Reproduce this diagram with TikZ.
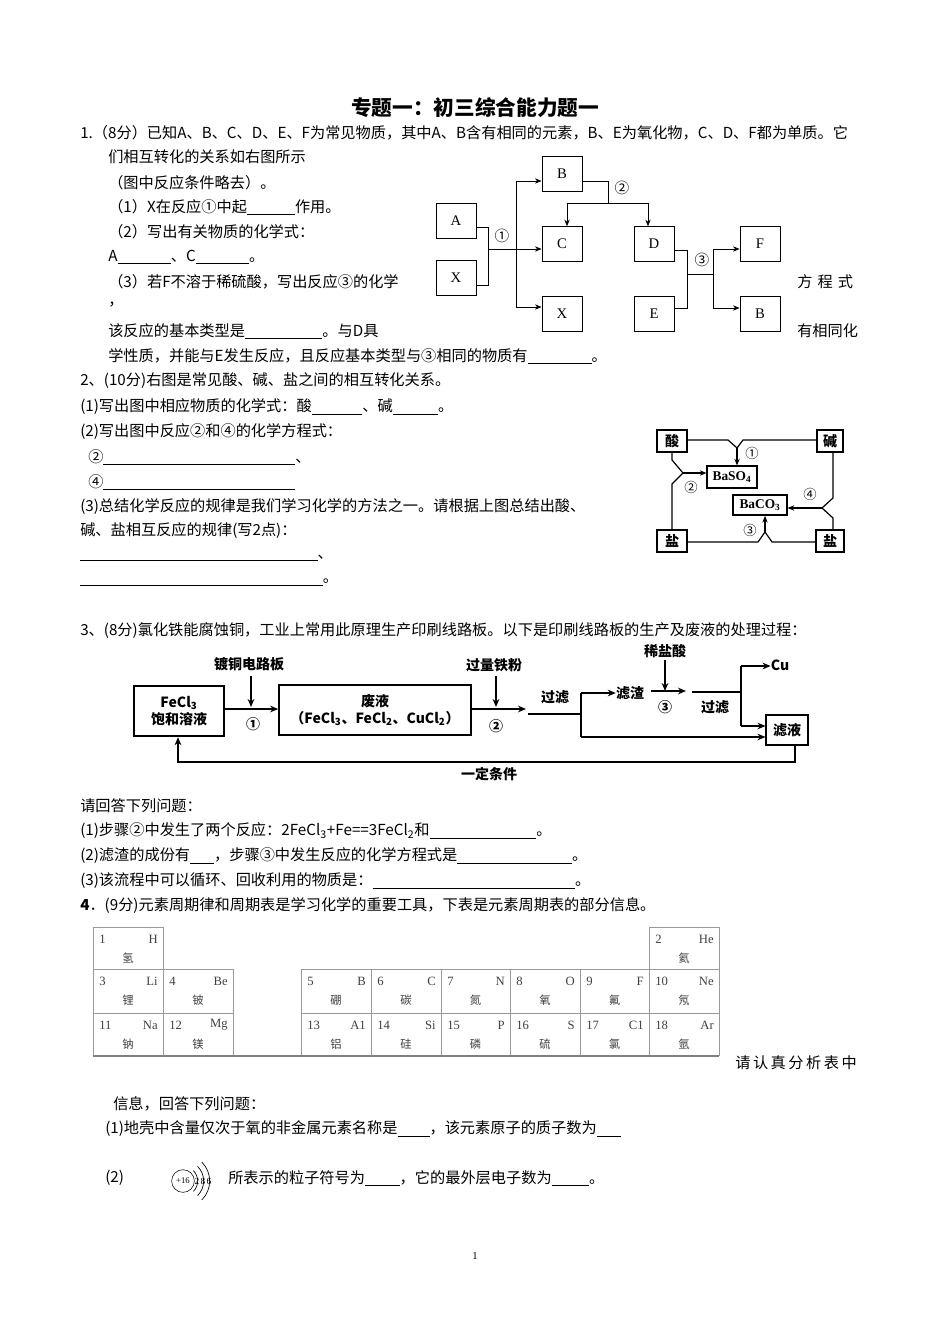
\documentclass[tikz,border=0pt]{standalone}
\usepackage{fontspec}
\setmainfont{Noto Sans CJK SC}
\newfontfamily\serif{Liberation Serif}
\usetikzlibrary{arrows.meta}
\newcommand\bl[1]{\rule[-2pt]{#1pt}{0.5pt}}
\newcommand\sub[1]{\textsubscript{#1}}
\begin{document}
\begin{tikzpicture}[x=0.75pt,y=-0.75pt,
  txt/.style={anchor=west,inner sep=0,font=\fontsize{11.4}{13}\selectfont},
  bx/.style={draw,line width=0.6pt,inner sep=0,font=\serif\fontsize{11}{12}\selectfont},
  ln/.style={line width=0.6pt},
  ar/.style={line width=0.6pt,-{Stealth[length=5pt,width=4pt]}},
  fb/.style={draw,line width=1.3pt,inner sep=0,font=\bfseries\fontsize{10.5}{13}\selectfont,align=center},
  fl/.style={line width=1.3pt},
  fa/.style={line width=1.3pt,-{Stealth[length=6pt,width=5pt]}},
  ft/.style={inner sep=0,font=\bfseries\fontsize{10.5}{12}\selectfont},
  lwb/.style={line width=0.9pt},
  lwa/.style={line width=0.9pt,-{Stealth[length=5pt,width=4pt]}},
  cell/.style={draw=gray!80,line width=0.6pt},
  ce/.style={inner sep=0,font=\fontsize{8.5}{10}\selectfont,text=black!75}]
\useasboundingbox[fill=white] (0,0) rectangle (950,1344);

\node[inner sep=0,font=\bfseries\fontsize{15.5}{17}\selectfont] (title) at (475,108) {专题一：初三综合能力题一};
\node[txt] (l1) at (80,133) {1.（8分）已知A、B、C、D、E、F为常见物质，其中A、B含有相同的元素，B、E为氧化物，C、D、F都为单质。它};
\node[txt] (l2) at (108,157) {们相互转化的关系如右图所示};
\node[txt] (l3) at (108,183) {（图中反应条件略去）。};
\node[txt] (l4) at (108,207) {（1）X在反应①中起\bl{36}作用。};
\node[txt] (l5) at (108,232) {（2）写出有关物质的化学式：};
\node[txt] (l6) at (108,257) {A\bl{40}、C\bl{40}。};
\node[txt] (l7) at (108,282) {（3）若F不溶于稀硫酸，写出反应③的化学};
\node[txt] (l7r) at (797,282) {方\,\,程\,\,式};
\node[txt] (l8) at (108,305) {，};
\node[txt] (l9) at (108,331) {该反应的基本类型是\bl{58}。与D具};
\node[txt] (l9r) at (797,331) {有相同化};
\node[txt] (l10) at (108,356) {学性质，并能与E发生反应，且反应基本类型与③相同的物质有\bl{48}。};

% diagram 1
\node[bx,minimum width=30pt,minimum height=26pt] (A) at (456,221) {A};
\node[bx,minimum width=30pt,minimum height=26pt] (X1) at (456,278) {X};
\node[bx,minimum width=30pt,minimum height=26pt] (B1) at (562,174) {B};
\node[bx,minimum width=30pt,minimum height=26pt] (C) at (562,244) {C};
\node[bx,minimum width=30pt,minimum height=26pt] (X2) at (562,314) {X};
\node[bx,minimum width=30pt,minimum height=26pt] (D) at (654,244) {D};
\node[bx,minimum width=30pt,minimum height=26pt] (E) at (654,314) {E};
\node[bx,minimum width=30pt,minimum height=26pt] (F) at (760,244) {F};
\node[bx,minimum width=30pt,minimum height=26pt] (B2) at (760,314) {B};
\draw[ln] (A.east|-0,227) -- (488,227) -- (488,285) -- (X1.east|-0,285);
\draw[ar] (488,249) -- (C.west|-0,249);
\draw[ln] (516,181) -- (516,307);
\draw[ar] (516,181) -- (B1.west|-0,181);
\draw[ar] (516,307) -- (X2.west|-0,307);
\node[inner sep=0,font=\fontsize{11}{12}\selectfont] (n1) at (502,236) {①};
\draw[ln] (B1.east|-0,181) -- (608,181) -- (608,203);
\draw[ln] (567,203) -- (648,203);
\draw[ar] (567,203) -- (C.north-|567,0);
\draw[ar] (648,203) -- (D.north-|648,0);
\node[inner sep=0,font=\fontsize{11}{12}\selectfont] (n2) at (622,188) {②};
\draw[ln] (D.east|-0,250) -- (687,250) -- (687,308) -- (E.east|-0,308);
\draw[ln] (687,274) -- (713,274);
\draw[ln] (713,249) -- (713,308);
\draw[ar] (713,249) -- (F.west|-0,249);
\draw[ar] (713,308) -- (B2.west|-0,308);
\node[inner sep=0,font=\fontsize{11}{12}\selectfont] (n3) at (702,260) {③};

% question 2
\node[txt] (m1) at (80,381) {2、(10分)右图是常见酸、碱、盐之间的相互转化关系。};
\node[txt] (m2) at (80,407) {(1)写出图中相应物质的化学式：酸\bl{38}、碱\bl{34}。};
\node[txt] (m3) at (80,432) {(2)写出图中反应②和④的化学方程式：};
\node[txt] (m4) at (88,457) {②\bl{144}、};
\node[txt] (m5) at (88,482) {④\bl{144}};
\node[txt] (m6) at (80,507) {(3)总结化学反应的规律是我们学习化学的方法之一。请根据上图总结出酸、};
\node[txt] (m7) at (80,531) {碱、盐相互反应的规律(写2点)：};
\node[txt] (m8) at (80,558) {\bl{178}、};
\node[txt] (m9) at (80,582) {\bl{182}。};

% diagram 2
\node[fb,minimum width=22pt,minimum height=16pt] (acid) at (672,441) {酸};
\node[fb,minimum width=20pt,minimum height=16pt] (base) at (830,441) {碱};
\node[fb,minimum width=22pt,minimum height=16pt] (salt1) at (672,541) {盐};
\node[fb,minimum width=21pt,minimum height=16pt] (salt2) at (830,541) {盐};
\node[fb,font=\serif\bfseries\fontsize{10}{11}\selectfont,minimum width=37pt,minimum height=16pt] (bso) at (732,477) {BaSO\sub{4}};
\node[fb,font=\serif\bfseries\fontsize{10}{11}\selectfont,minimum width=40pt,minimum height=15pt] (bco) at (760,505) {BaCO\sub{3}};
\draw[lwb] (acid.east|-0,440) -- (728,440) -- (737,448) -- (743,440) -- (base.west|-0,440);
\draw[lwa] (737,448) -- (bso.north-|737,0);
\draw[lwb] (acid.south-|672,0) -- (672,460) -- (683,473) -- (672,484) -- (salt1.north-|672,0);
\draw[lwa] (683,473) -- (bso.west|-0,473);
\draw[lwb] (base.south-|833,0) -- (833,498) -- (822,508) -- (833,518) -- (salt2.north-|833,0);
\draw[lwa] (822,508) -- (bco.east|-0,508);
\draw[lwb] (salt1.east|-0,542) -- (758,542) -- (765,532) -- (772,542) -- (salt2.west|-0,542);
\draw[lwa] (765,532) -- (bco.south-|765,0);
\node[inner sep=0,font=\fontsize{10}{11}\selectfont] (c1) at (752,453) {①};
\node[inner sep=0,font=\fontsize{10}{11}\selectfont] (c2) at (691,487) {②};
\node[inner sep=0,font=\fontsize{10}{11}\selectfont] (c3) at (750,530) {③};
\node[inner sep=0,font=\fontsize{10}{11}\selectfont] (c4) at (810,494) {④};

% question 3
\node[txt] (q1) at (80,631) {3、(8分)氯化铁能腐蚀铜，工业上常用此原理生产印刷线路板。以下是印刷线路板的生产及废液的处理过程：};
\node[fb,minimum width=68pt,minimum height=38pt] (fecl) at (179,711) {FeCl\sub{3}\\饱和溶液};
\node[fb,minimum width=144pt,minimum height=37pt] (fy) at (375,710) {废液\\（FeCl\sub{3}、FeCl\sub{2}、CuCl\sub{2}）};
\node[fb,minimum width=31pt,minimum height=22pt] (lye) at (787,730) {滤液};
\node[ft] (f1) at (249,664) {镀铜电路板};
\node[ft] (f2) at (494,665) {过量铁粉};
\node[ft] (f3) at (665,651) {稀盐酸};
\node[ft] (gl1) at (555,697) {过滤};
\node[ft] (lz) at (630,693) {滤渣};
\node[ft] (gl2) at (715,707) {过滤};
\node[ft] (cu) at (780,665) {Cu};
\node[ft] (yd) at (489,774) {一定条件};
\node[ft] (s1) at (253,724) {①};
\node[ft] (s2) at (496,726) {②};
\node[ft] (s3) at (665,707) {③};
\draw[fa] (251,676) -- (251,707);
\draw[fa] (fecl.east|-0,709) -- (fy.west|-0,709);
\draw[fa] (496,676) -- (496,707);
\draw[fa] (fy.east|-0,709) -- (526,709);
\draw[fl] (528,714) -- (581,714);
\draw[fl] (581,693) -- (581,737);
\draw[fa] (581,693) -- (lz.west|-0,693);
\draw[fa] (581,737) -- (lye.west|-0,737);
\draw[fa] (665,660) -- (665,691);
\draw[fa] (651,691) -- (686,691);
\draw[fl] (692,692) -- (741,692);
\draw[fl] (741,666) -- (741,726);
\draw[fa] (741,666) -- (cu.west|-0,666);
\draw[fa] (741,726) -- (lye.west|-0,726);
\draw[fa] (lye.south-|795,0) -- (795,762) -- (178,762) -- (fecl.south-|178,0);

\node[txt] (r0) at (80,806) {请回答下列问题：};
\node[txt] (r1) at (80,831) {(1)步骤②中发生了两个反应：2FeCl\sub{3}+Fe==3FeCl\sub{2}和\bl{80}。};
\node[txt] (r2) at (80,856) {(2)滤渣的成份有\bl{18}，步骤③中发生反应的化学方程式是\bl{86}。};
\node[txt] (r3) at (80,881) {(3)该流程中可以循环、回收利用的物质是：\bl{152}。};
\node[txt] (r4) at (80,906) {\textbf{4}．(9分)元素周期律和周期表是学习化学的重要工具，下表是元素周期表的部分信息。};

% periodic table
\foreach \n/\s/\c/\xa/\xb/\ya/\yb in {1/H/氢/93/163/927/969, 2/He/氦/649/719/927/969,
 3/Li/锂/93/163/969/1013, 4/Be/铍/163/233/969/1013, 5/B/硼/301/371/969/1013, 6/C/碳/371/441/969/1013,
 7/N/氮/441/510/969/1013, 8/O/氧/510/580/969/1013, 9/F/氟/580/649/969/1013, 10/Ne/氖/649/719/969/1013,
 11/Na/钠/93/163/1013/1055, 12/Mg/镁/163/233/1013/1055, 13/A1/铝/301/371/1013/1055, 14/Si/硅/371/441/1013/1055,
 15/P/磷/441/510/1013/1055, 16/S/硫/510/580/1013/1055, 17/C1/氯/580/649/1013/1055, 18/Ar/氩/649/719/1013/1055}{
 \draw[cell] (\xa,\ya) rectangle (\xb,\yb);
 \node[ce,anchor=west,font=\serif\fontsize{9.5}{10}\selectfont] (pn\n) at (\xa+6,\ya+12) {\n};
 \node[ce,anchor=east,font=\serif\fontsize{9.5}{10}\selectfont] (ps\n) at (\xb-5,\ya+12) {\s};
 \node[ce] (pc\n) at ({(\xa+\xb)/2},\ya+31) {\c};
}
\draw[gray,line width=1pt] (93,1056) -- (719,1056);
\node[txt] (t1) at (735,1063) {请\,认\,真\,分\,析\,表\,中};
\node[txt] (t2) at (113,1104) {信息，回答下列问题：};
\node[txt] (t3) at (105,1129) {(1)地壳中含量仅次于氧的非金属元素名称是\bl{24}，该元素原子的质子数为\bl{18}};
\node[txt] (t4) at (105,1178) {(2)};
\node[txt] (t5) at (228,1178) {所表示的粒子符号为\bl{26}，它的最外层电子数为\bl{28}。};
% atom
\node[draw,circle,minimum size=17pt,inner sep=0,font=\serif\fontsize{6.5}{7}\selectfont] (nuc) at (183,1181) {+16};
\foreach \r in {11,15.5,20}{\draw[line width=0.5pt] (183,1181) ++(-45:\r pt) arc[start angle=-45,end angle=45,radius=\r pt];}
\node[inner sep=0,font=\serif\fontsize{7}{7}\selectfont] (e1) at (197,1181) {2};
\node[inner sep=0,font=\serif\fontsize{7}{7}\selectfont] (e2) at (203,1181) {8};
\node[inner sep=0,font=\serif\fontsize{7}{7}\selectfont] (e3) at (209,1181) {6};
\node[inner sep=0,font=\serif\fontsize{8}{9}\selectfont] (pg) at (475,1256) {1};
\end{tikzpicture}
\end{document}
